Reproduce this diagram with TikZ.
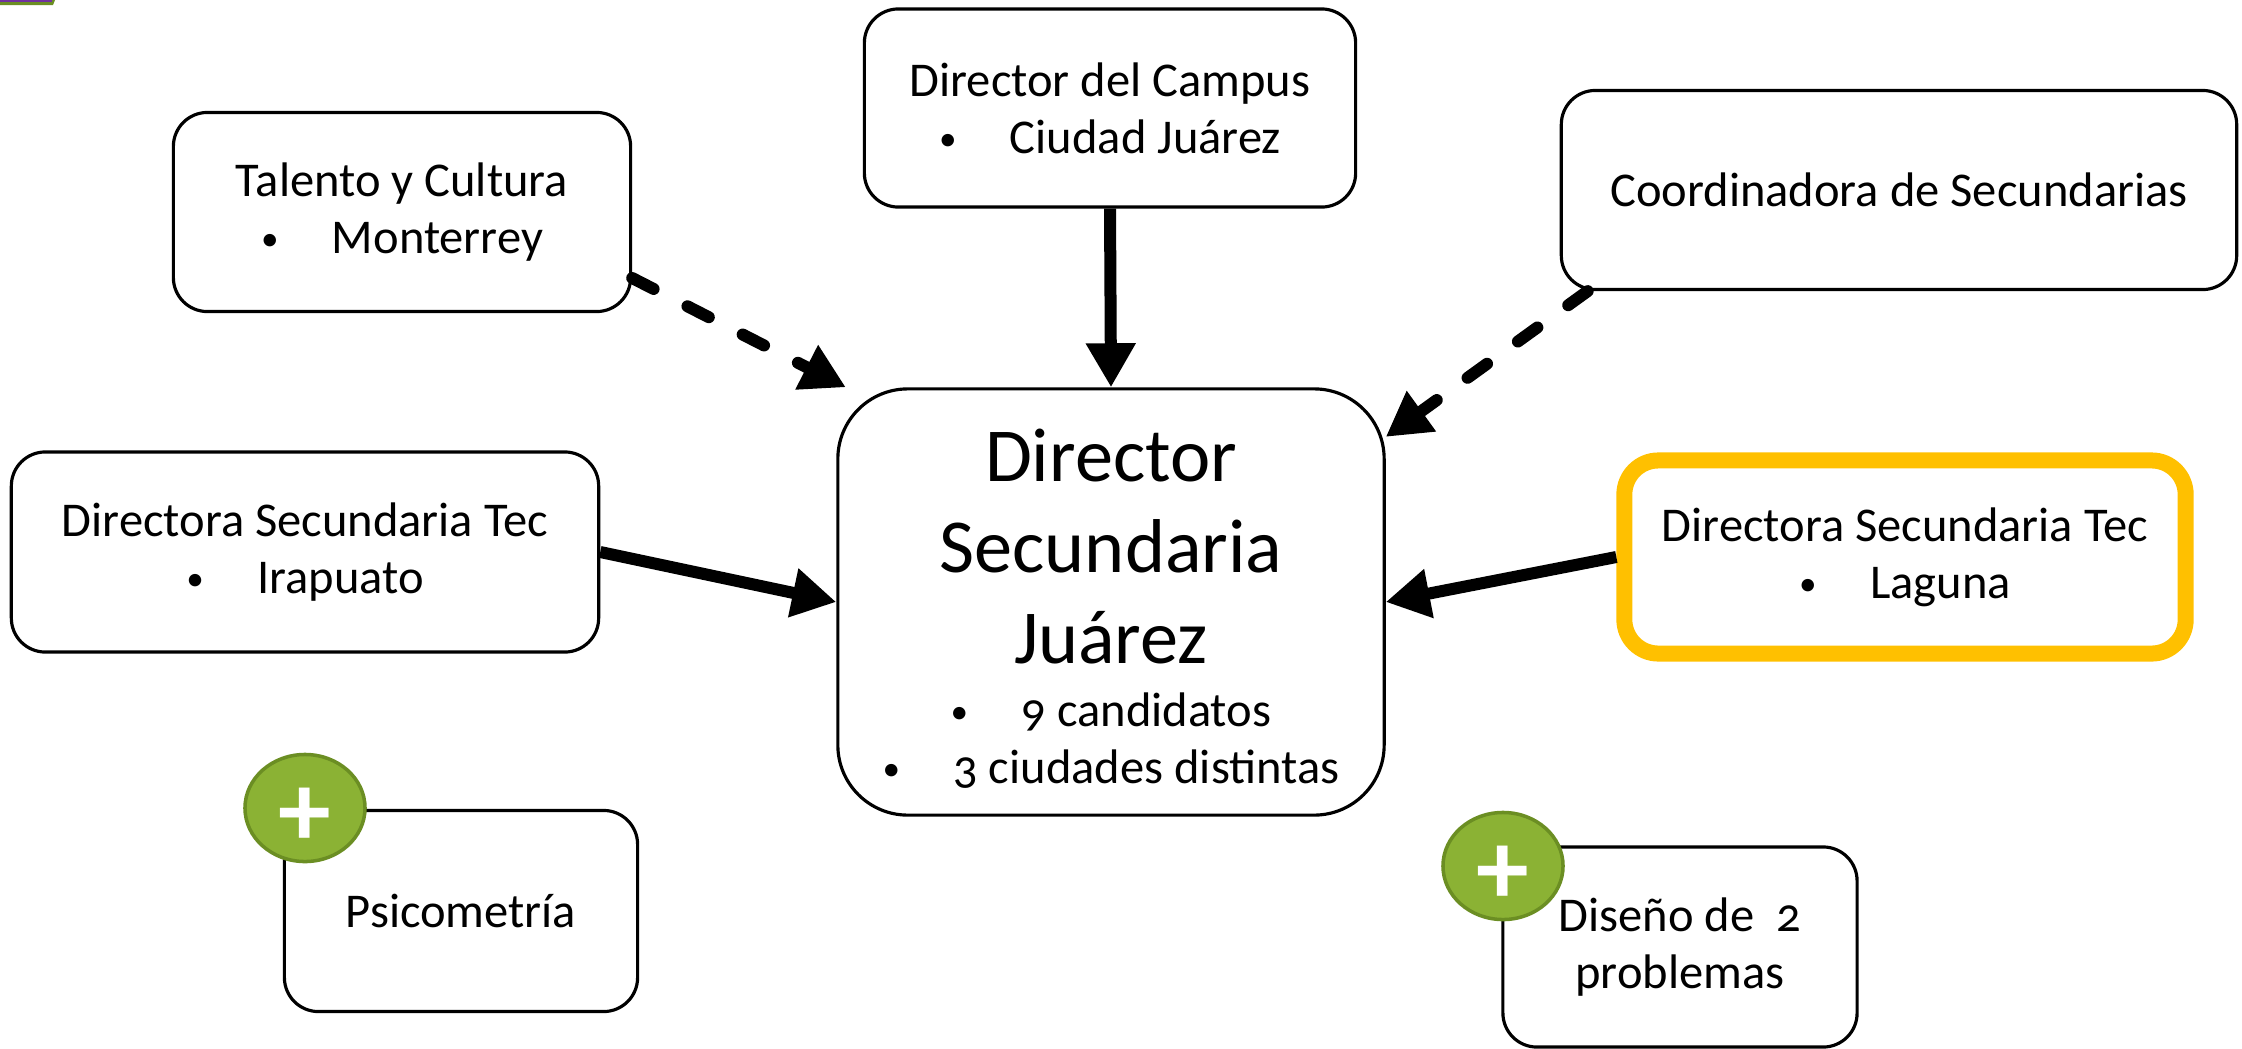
\documentclass[tikz,border=0pt]{standalone}
\usepackage{fontspec}
\setmainfont[Numbers=OldStyle]{Carlito}
\usetikzlibrary{arrows.meta, positioning, shapes.geometric}

\definecolor{oro}{RGB}{255,192,0}
\definecolor{verde}{RGB}{139,178,52}
\definecolor{verdeosc}{RGB}{107,142,35}
\definecolor{morado}{RGB}{112,48,160}

\newcommand{\chico}{\fontsize{13.8}{16.2}\selectfont}
\newcommand{\grande}{\fontsize{21.7}{25.9}\selectfont}
\newcommand{\vin}{\raisebox{0.8pt}{\fontsize{10}{10}\selectfont\textbullet}\hspace{1.1em}}

\begin{document}
\begin{tikzpicture}[x=0.01cm, y=-0.01cm,
  box/.style={rectangle, rounded corners=0.34cm, draw=black, line width=0.9pt,
    align=center, font=\chico, inner sep=0pt},
  mainbox/.style={box, rounded corners=0.7cm, font=\grande},
  badge/.style={ellipse, fill=verde, draw=verdeosc, line width=1pt,
    minimum width=1.2cm, minimum height=1.07cm, inner sep=0pt},
  signo/.style={text=white, font=\fontsize{30}{30}\selectfont\bfseries, inner sep=0pt},
  arrow/.style={line width=0.12cm, -{Triangle[length=0.44cm,width=0.47cm]}},
  dasharrow/.style={arrow, line cap=round, dash pattern=on 0.24cm off 0.38cm}]
  \useasboundingbox (0,0) rectangle (2242,1048);

  % piece of a shape cut off at the corner
  \fill[verdeosc] (0,0) -- (55,0) -- (53,5) -- (0,5) -- cycle;
  \fill[morado] (0,0) rectangle (52,2);

  \node (juarez) [mainbox, minimum width=5.46cm, minimum height=4.26cm] at (1111,602)
    {\rule{0pt}{18.5pt}Director\\Secundaria\\Juárez\\[-8pt]\chico\vin 9 candidatos\\[-9.7pt]\chico\vin 3 ciudades distintas};

  \node (campus) [box, minimum width=4.91cm, minimum height=1.98cm] at (1110,108)
    {Director del Campus\\\vin Ciudad Juárez};
  \node (talento) [box, minimum width=4.57cm, minimum height=1.99cm] at (402,212)
    {Talento y Cultura\\\vin Monterrey};
  \node (coord) [box, minimum width=6.75cm, minimum height=1.99cm] at (1899,190)
    {Coordinadora de Secundarias};
  \node (irapuato) [box, minimum width=5.87cm, minimum height=2cm] at (305,552)
    {Directora Secundaria Tec\\\vin Irapuato};
  \node (laguna) [box, draw=oro, line width=0.16cm, minimum width=5.61cm, minimum height=1.93cm] at (1905,557)
    {Directora Secundaria Tec\\\vin Laguna};

  \node (psico) [box, minimum width=3.53cm, minimum height=2.01cm] at (461,911) {Psicometría};
  \node (diseno) [box, minimum width=3.54cm, minimum height=2cm] at (1680,947) {Diseño de\ \ 2\\problemas};

  \node (psicobadge) [badge] at (305,808) {};
  \node (psicomas) [signo] at (305,817) {+};
  \node (disenobadge) [badge] at (1503,866) {};
  \node (disenomas) [signo] at (1503,875) {+};

  \draw[arrow] (campus.south) -- (juarez.north);
  \draw[dasharrow] (talento.-16) -- (juarez.141);
  \draw[dasharrow] (coord.198) -- (juarez.31);
  \draw[arrow] (irapuato.east) -- (juarez.west);
  \draw[arrow] (laguna.west) -- (juarez.east);
\end{tikzpicture}
\end{document}
